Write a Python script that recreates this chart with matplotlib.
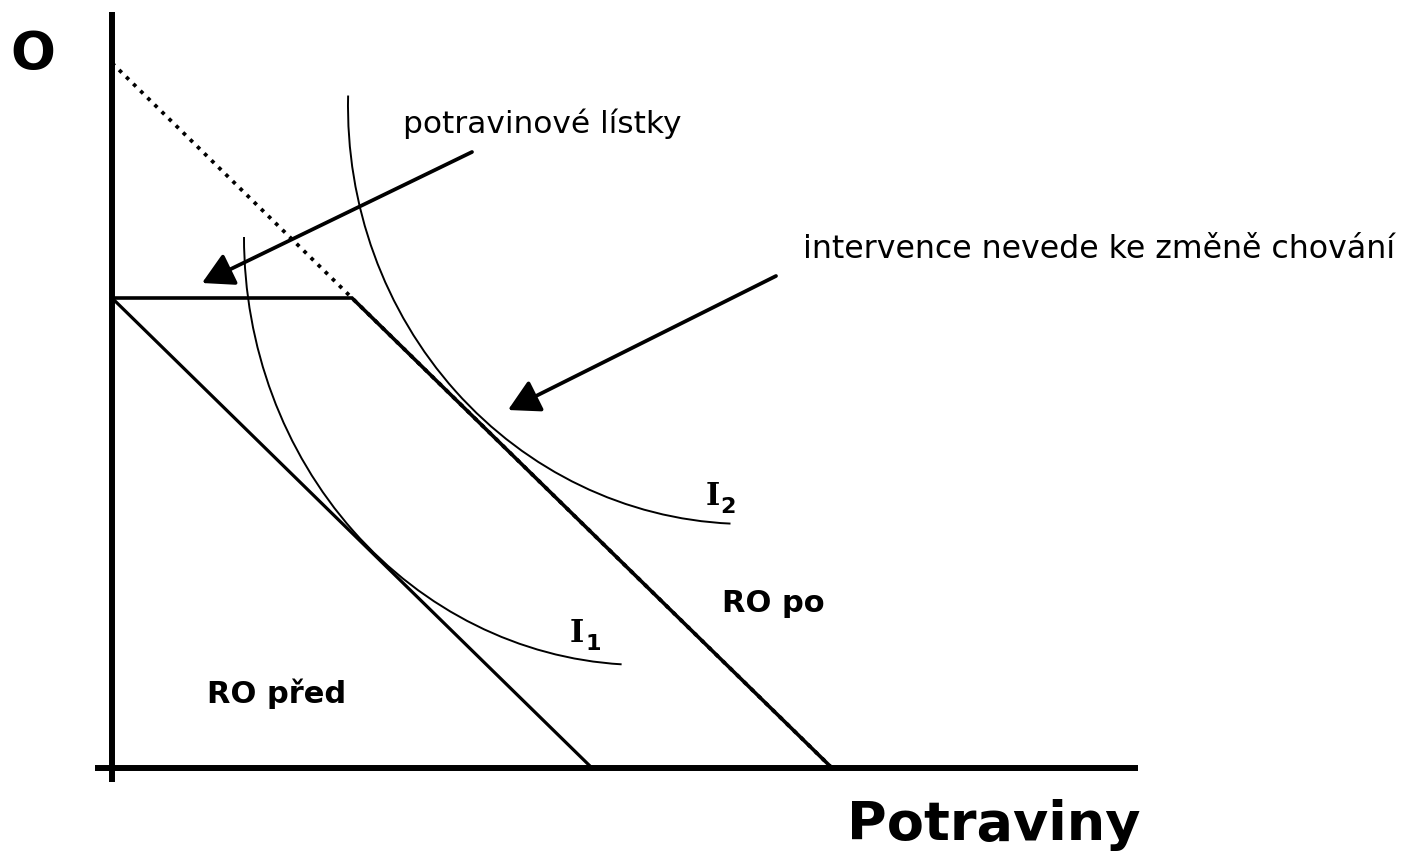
import numpy as np
import matplotlib
matplotlib.use("Agg")
import matplotlib.pyplot as plt
from matplotlib.patches import Arc

plt.rcParams['font.family'] = ['DejaVu Sans']

# osy (jednotky = pixely od pocatku)
osa_y = [[0, 0], [756, -14]]
osa_x = [[-17, 1026], [0, 0]]

# rozpoctove omezeni pred a po
ro_pred_x = [0, 480]
ro_pred_y = [470, 0]
ro_po_x = [0, 240, 720]
ro_po_y = [470, 470, 0]
ro_teckovane_x = [0, 720]
ro_teckovane_y = [705, 0]

# indiferencni krivky jako oblouky elipsy: stred, poloosy, uhly
i1_stred = (532, 531)
i1_poloosy = (400, 428)
i1_uhly = (180, 267)
i2_stred = (636, 662)
i2_poloosy = (400, 418)
i2_uhly = (178.5, 267.6)

# sipky: (od, do)
sipka1 = [(360, 616), (90, 485)]
sipka2 = [(664, 492), (396, 358)]

fig = plt.figure(figsize=(14.1, 8.57), dpi=100)
ax = fig.add_axes([0, 0, 1, 1])
ax.set_xlim(-112, 1298)
ax.set_ylim(-89, 768)
ax.axis('off')

ax.plot(osa_y[0], osa_y[1], color='black', lw=4.3, solid_capstyle='butt')
ax.plot(osa_x[0], osa_x[1], color='black', lw=4.3, solid_capstyle='butt')

ax.plot(ro_teckovane_x, ro_teckovane_y, color='black', lw=2.7, linestyle=':')
ax.plot(ro_pred_x, ro_pred_y, color='black', lw=2.3)
ax.plot(ro_po_x, ro_po_y, color='black', lw=2.6, solid_joinstyle='miter')

for stred, poloosy, uhly in [(i1_stred, i1_poloosy, i1_uhly), (i2_stred, i2_poloosy, i2_uhly)]:
    ax.add_patch(Arc(stred, 2 * poloosy[0], 2 * poloosy[1],
                     theta1=uhly[0], theta2=uhly[1], color='black', lw=1.4))

for od, do in [sipka1, sipka2]:
    ax.annotate('', xy=do, xytext=od,
                arrowprops=dict(arrowstyle='-|>,head_length=1.9,head_width=1.05',
                                color='black', lw=2.7, shrinkA=0, shrinkB=0,
                                mutation_scale=10))

ax.text(-79, 713, 'O', fontsize=38, fontweight='bold', ha='center', va='center')
ax.text(1029, -72, 'Potraviny', fontsize=39, fontweight='bold', ha='right', va='baseline')
ax.text(291, 635, 'potravinové lístky', fontsize=22.5, ha='left', va='baseline')
ax.text(691, 510, 'intervence nevede ke změně chování', fontsize=22.8, ha='left', va='baseline')
ax.text(95, 65, 'RO před', fontsize=22, fontweight='bold', ha='left', va='baseline')
ax.text(610, 156, 'RO po', fontsize=22, fontweight='bold', ha='left', va='baseline')

ax.text(458, 126, 'I', fontsize=22, fontweight='bold', family='DejaVu Serif', ha='left', va='baseline')
ax.text(473, 118, '1', fontsize=16, fontweight='bold', ha='left', va='baseline')
ax.text(594, 263, 'I', fontsize=22, fontweight='bold', family='DejaVu Serif', ha='left', va='baseline')
ax.text(608, 255, '2', fontsize=16, fontweight='bold', ha='left', va='baseline')

fig.savefig('out.png', dpi=100)
